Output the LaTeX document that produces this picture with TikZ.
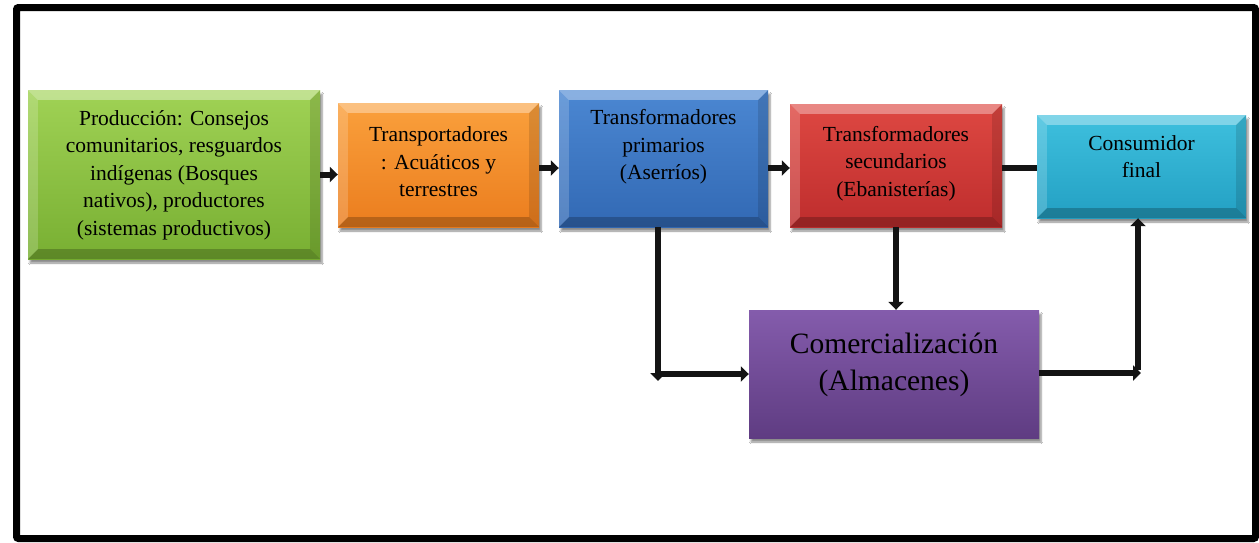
\documentclass[tikz,border=0pt]{standalone}
\usepackage{fontspec}
\setmainfont{Liberation Serif}
\usetikzlibrary{arrows.meta,shadows.blur,calc}
\definecolor{gT}{RGB}{160,210,85}\definecolor{gB}{RGB}{120,175,50}
\definecolor{oT}{RGB}{250,160,60}\definecolor{oB}{RGB}{235,125,30}
\definecolor{bT}{RGB}{75,135,210}\definecolor{bB}{RGB}{50,105,180}
\definecolor{rT}{RGB}{222,72,66}\definecolor{rB}{RGB}{190,45,45}
\definecolor{cT}{RGB}{62,192,222}\definecolor{cB}{RGB}{35,160,195}
\definecolor{pT}{RGB}{132,92,172}\definecolor{pB}{RGB}{95,60,130}
\definecolor{lineK}{RGB}{20,20,20}
\newcommand\bevelbox[2]{%
  \fill[white,opacity=.35] (#1.north west) -- (#1.north east) -- ($(#1.north east)+(-#2,#2)$) -- ($(#1.north west)+(#2,#2)$) -- cycle;
  \fill[white,opacity=.18] (#1.north west) -- ($(#1.north west)+(#2,#2)$) -- ($(#1.south west)+(#2,-#2)$) -- (#1.south west) -- cycle;
  \fill[black,opacity=.22] (#1.south west) -- ($(#1.south west)+(#2,-#2)$) -- ($(#1.south east)+(-#2,-#2)$) -- (#1.south east) -- cycle;
  \fill[black,opacity=.12] (#1.north east) -- (#1.south east) -- ($(#1.south east)+(-#2,-#2)$) -- ($(#1.north east)+(-#2,#2)$) -- cycle;
}
\tikzset{
  box/.style={draw=none, inner sep=0pt,
    blur shadow={shadow xshift=2pt, shadow yshift=-4pt, shadow blur steps=6, shadow opacity=45}},
  txt/.style={align=center, inner sep=0pt, anchor=base, font=\fontsize{21.5}{27.5}\selectfont},
  bigtxt/.style={align=center, inner sep=0pt, anchor=base, font=\fontsize{29.5}{37}\selectfont},
  arr/.style={draw=lineK, line width=6pt, -{Triangle[length=8pt,width=15pt]}},
  lnk/.style={draw=lineK, line width=6pt},
  frame/.style={line width=7pt, rounded corners=2pt}
}
\begin{document}
\begin{tikzpicture}[x=1pt,y=-1pt]
\useasboundingbox (0,0) rectangle (1259,542);
\fill[white] (0,0) rectangle (1259,542);
\draw[frame] (16.5,7.5) rectangle (1255.5,538.5);

\node[box, top color=gT, bottom color=gB, minimum width=292pt, minimum height=169pt] (g) at (174,174.5) {};
\node[box, top color=oT, bottom color=oB, minimum width=201pt, minimum height=124pt] (o) at (438.5,165) {};
\node[box, top color=bT, bottom color=bB, minimum width=209pt, minimum height=137pt] (b) at (663.5,158.5) {};
\node[box, top color=rT, bottom color=rB, minimum width=212pt, minimum height=123pt] (r) at (896,165.5) {};
\node[box, top color=cT, bottom color=cB, minimum width=209pt, minimum height=103pt] (c) at (1141.5,166.5) {};
\node[box, top color=pT, bottom color=pB, minimum width=290pt, minimum height=128pt] (p) at (894,374) {};

\bevelbox{g}{10}
\bevelbox{o}{10}
\bevelbox{b}{10}
\bevelbox{r}{10}
\bevelbox{c}{10}

\node[txt] (gt) at (174,235) {Producción: Consejos\\comunitarios, resguardos\\indígenas (Bosques\\nativos), productores\\(sistemas productivos)};
\node[txt] (ot) at (438.5,196.5) {Transportadores\\: Acuáticos y\\terrestres};
\node[txt] (bt) at (663.5,179.5) {Transformadores\\primarios\\(Aserríos)};
\node[txt] (rt) at (896,196) {Transformadores\\secundarios\\(Ebanisterías)};
\node[txt] (ct) at (1141.5,177.5) {Consumidor\\final};
\node[bigtxt] (pt) at (894,390) {Comercialización\\(Almacenes)};

\coordinate (c1) at (658,381);
\coordinate (c1b) at (658,374);
\coordinate (c2) at (1138,373);

\draw[arr] (g.east) -- (g.east -| o.west);
\draw[arr] (o.east |- 0,168) -- (b.west |- 0,168);
\draw[arr] (b.east |- 0,168) -- (r.west |- 0,168);
\draw[lnk] (r.east |- 0,167.5) -- (c.west |- 0,167.5);
\draw[arr] (b.south -| c1) -- (c1);
\draw[arr] (c1b) -- (c1b -| p.west);
\draw[arr] (r.south) -- (r.south |- p.north);
\draw[arr] ([yshift=3pt]c2) -- (c2 |- c.south);
\draw[arr] (p.east |- c2) -- ([xshift=3pt]c2);
\end{tikzpicture}
\end{document}
